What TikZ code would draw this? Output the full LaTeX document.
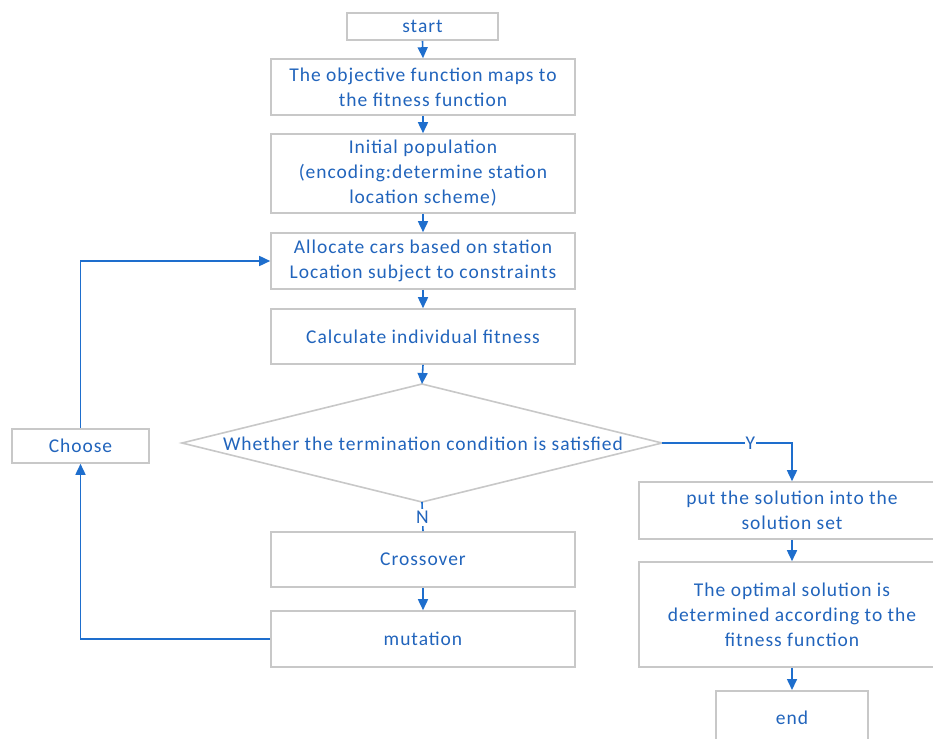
\documentclass[tikz,border=0pt]{standalone}
\usepackage{fontspec}
\setmainfont{Carlito}[LetterSpace=5]
\usetikzlibrary{arrows.meta}
\definecolor{txtblue}{RGB}{33,100,188}
\definecolor{arrblue}{RGB}{30,110,205}
\definecolor{boxgray}{RGB}{200,200,200}
\tikzset{
  box/.style={draw=boxgray, line width=1.6pt, fill=white, text=txtblue, align=center,
    inner sep=0pt, font=\fontsize{19.5}{25}\selectfont},
  conn/.style={draw=arrblue, line width=1.6pt, -{Triangle[width=10pt,length=11pt]}},
  plainconn/.style={draw=arrblue, line width=1.6pt},
  lbl/.style={fill=white, text=txtblue, inner sep=2pt, font=\fontsize{19.5}{25}\selectfont},
}
\begin{document}
\begin{tikzpicture}[x=1pt,y=-1pt]
\useasboundingbox (0,0) rectangle (933,738);
\clip (0,0) rectangle (933,738);
\fill[white] (0,0) rectangle (933,738);
% main column
\node[box, minimum width=151pt, minimum height=27pt] (start) at (422.5,26.5) {start};
\node[box, minimum width=304pt, minimum height=56pt] (obj) at (423,87) {The objective function maps to\\the fitness function};
\node[box, minimum width=304pt, minimum height=79pt] (init) at (423,173.5) {Initial population\\(encoding:determine station\\location scheme)};
\node[box, minimum width=304pt, minimum height=56pt] (alloc) at (423,261) {Allocate cars based on station\\Location subject to constraints};
\node[box, minimum width=304pt, minimum height=55pt] (calc) at (423,336.5) {Calculate individual fitness};
% diamond
\coordinate (dtop) at (422,384);
\coordinate (dbot) at (422,502);
\coordinate (dleft) at (182,443);
\coordinate (dright) at (662,443);
\coordinate (ybend) at (792,443);
\draw[boxgray, line width=1.6pt, fill=white] (dtop) -- (dright) -- (dbot) -- (dleft) -- cycle;
\node[text=txtblue, inner sep=0pt, font=\fontsize{19.5}{25}\selectfont] (cond) at (423,444) {Whether the termination condition is satisfied};
\node[box, minimum width=304pt, minimum height=55pt] (cross) at (423,559.5) {Crossover};
\node[box, minimum width=304pt, minimum height=56pt] (mut) at (423,639) {mutation};
\node[box, minimum width=137pt, minimum height=34pt] (choose) at (80.5,446) {Choose};
% right column
\node[box, minimum width=306pt, minimum height=57pt] (put) at (792,510.5) {put the solution into the\\solution set};
\node[box, minimum width=306pt, minimum height=105pt] (opt) at (792,614.5) {The optimal solution is\\determined according to the\\fitness function};
\node[box, minimum width=152pt, minimum height=70pt, anchor=north] (endn) at (792,690) {};
\node[text=txtblue, inner sep=0pt, font=\fontsize{19.5}{25}\selectfont] (endt) at (792,718) {end};
% connectors
\draw[conn] (start.south) -- (obj.north);
\draw[conn] (obj.south) -- (init.north);
\draw[conn] (init.south) -- (alloc.north);
\draw[conn] (alloc.south) -- (calc.north);
\draw[conn] (calc.south) -- (dtop);
\draw[plainconn] (dbot) -- node[lbl, pos=0.53] {N} (cross.north);
\draw[conn] (cross.south) -- (mut.north);
\draw[conn] (mut.west) -| (choose.south);
\draw[conn] (choose.north) |- (alloc.west);
\draw[conn] (dright) -- node[lbl, pos=0.68, inner sep=1pt] {Y} (ybend) -- (put.north);
\draw[conn] (put.south) -- (opt.north);
\draw[conn] (opt.south) -- (endn.north);
\end{tikzpicture}
\end{document}
